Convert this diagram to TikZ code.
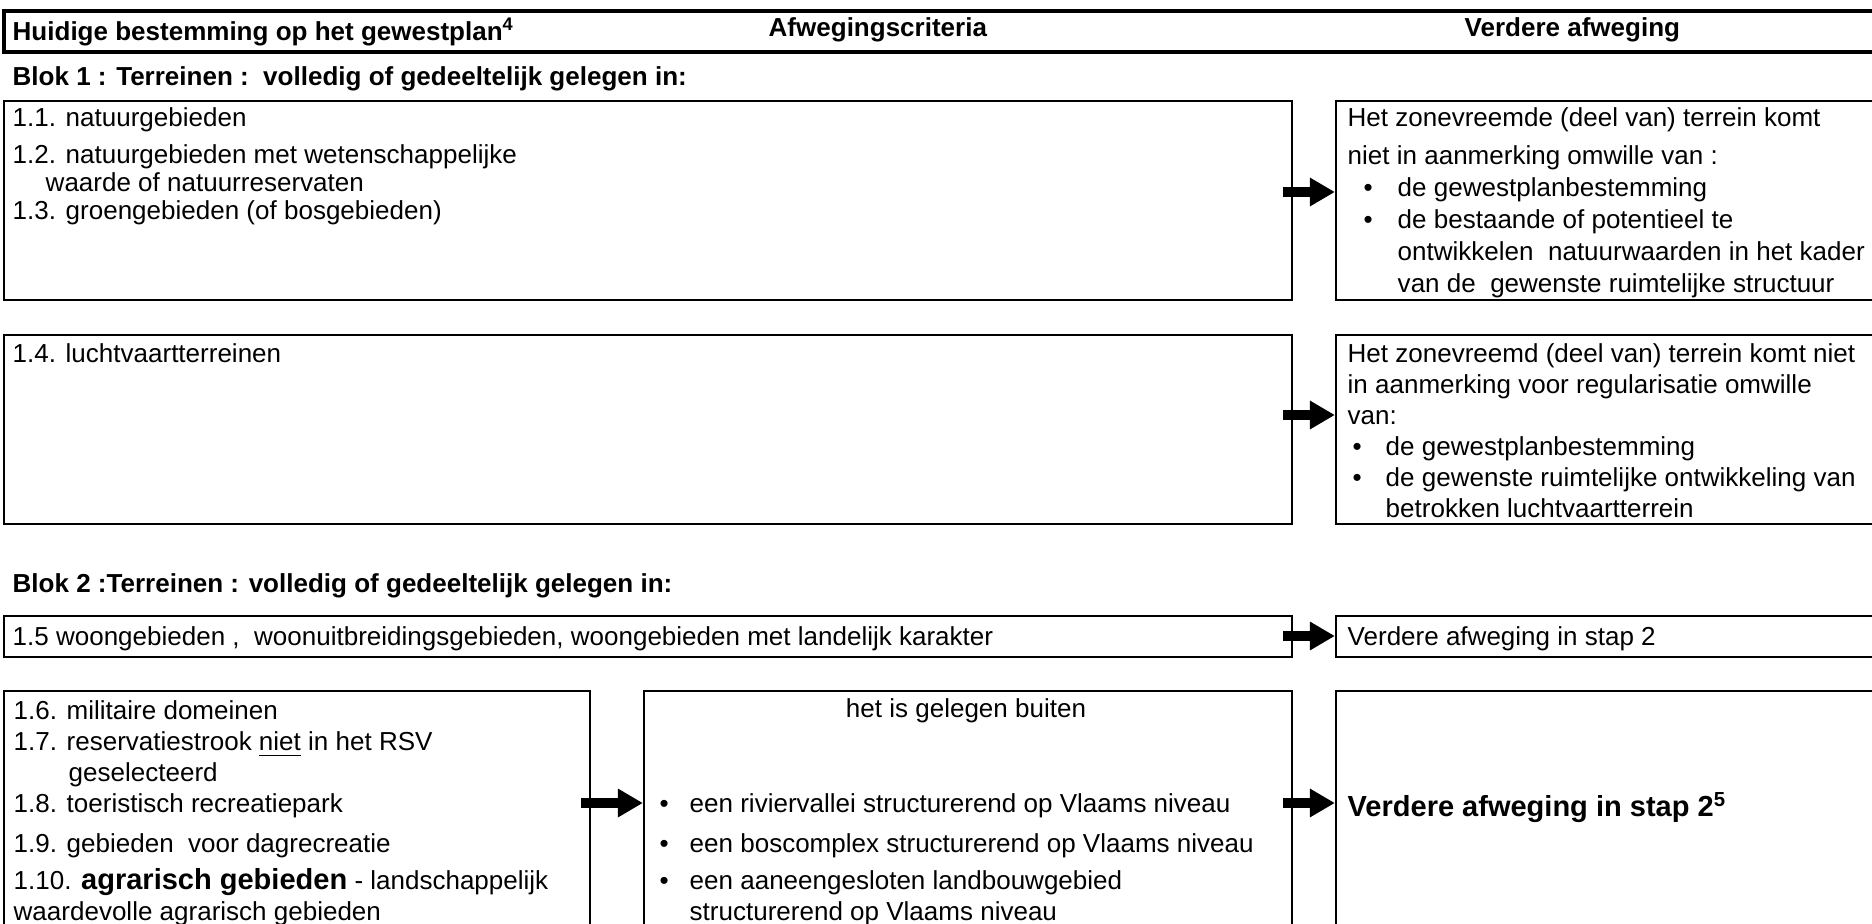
\documentclass[tikz,border=0pt]{standalone}
\usepackage{fontspec}
\setmainfont{Liberation Sans}
\usepackage{tikz}
\usetikzlibrary{positioning, calc, fit, arrows.meta}

\newcommand{\nfont}{\fontsize{0.26cm}{0.31cm}\selectfont}
\newcommand{\bfont}{\fontsize{0.29cm}{0.31cm}\selectfont\bfseries}
% bullets in the right column, first and second box
\newcommand{\bul}{\hspace*{0.16cm}\makebox[0.34cm][l]{\textbullet}}
\newcommand{\ind}{\hspace*{0.50cm}}
\newcommand{\bulb}{\hspace*{0.05cm}\makebox[0.33cm][l]{\textbullet}}
\newcommand{\indb}{\hspace*{0.38cm}}
\newcommand{\bulm}{\makebox[0.30cm][l]{\textbullet}}

\begin{document}
\begin{tikzpicture}[x=0.01cm, y=-0.01cm, font=\nfont,
    cell/.style={draw, line width=0.022cm, inner sep=0pt},
    head/.style={draw, line width=0.03cm, inner sep=0pt},
    txt/.style={anchor=north west, inner sep=0pt, align=left, font=\nfont},
    btxt/.style={txt, font=\nfont\bfseries},
    blk/.style={line width=0.10cm, -{Triangle[length=0.25cm, width=0.27cm]}}]
    \useasboundingbox (0,0) rectangle (1872,924);

    % header row
    \node[head, fit={(4,11) (1900,52)}] (hdr) {};
    \node[btxt] (hBest) at (12,17) {Huidige bestemming op het gewestplan\textsuperscript{4}};
    \node[btxt] (hCrit) at (768,17) {Afwegingscriteria};
    \node[btxt] (hVerd) at (1464,17) {Verdere afweging};

    % blok 1
    \node[btxt] (blok1) at (12,66) {Blok 1 : Terreinen :\ \ volledig of gedeeltelijk gelegen in:};
    \node[cell, fit={(4,101) (1292,300)}] (natuur) {};
    \node[cell, fit={(1336,101) (1900,300)}] (natuurR) {};
    \node[txt, font=\fontsize{0.26cm}{0.28cm}\selectfont] (natuurT) at (12,107) {1.1. natuurgebieden\\[0.09cm]
        1.2. natuurgebieden met wetenschappelijke\\
        \hspace*{0.33cm}waarde of natuurreservaten\\
        1.3. groengebieden (of bosgebieden)};
    \node[txt, font=\fontsize{0.26cm}{0.32cm}\selectfont] (natuurRT) at (1347,107) {Het zonevreemde (deel van) terrein komt\\[0.06cm]
        niet in aanmerking omwille van :\\
        \bul de gewestplanbestemming\\
        \bul de bestaande of potentieel te\\
        \ind ontwikkelen\ \ natuurwaarden in het kader\\
        \ind van de\ \ gewenste ruimtelijke structuur};
    \coordinate (y1) at (0,192);
    \draw[blk] ([xshift=-0.1cm]natuur.east |- y1) -- (natuurR.west |- y1);

    \node[cell, fit={(4,335) (1292,524)}] (lucht) {};
    \node[cell, fit={(1336,335) (1900,524)}] (luchtR) {};
    \node[txt] (luchtT) at (12,343) {1.4. luchtvaartterreinen};
    \node[txt] (luchtRT) at (1347,343) {Het zonevreemd (deel van) terrein komt niet\\
        in aanmerking voor regularisatie omwille\\
        van:\\
        \bulb de gewestplanbestemming\\
        \bulb de gewenste ruimtelijke ontwikkeling van\\
        \indb betrokken luchtvaartterrein};
    \coordinate (y2) at (0,415);
    \draw[blk] ([xshift=-0.1cm]lucht.east |- y2) -- (luchtR.west |- y2);

    % blok 2
    \node[btxt] (blok2) at (12,573) {Blok 2 :Terreinen : volledig of gedeeltelijk gelegen in:};
    \node[cell, fit={(4,616) (1292,657)}] (wonen) {};
    \node[cell, fit={(1336,616) (1900,657)}] (wonenR) {};
    \node[txt] (wonenT) at (12,626) {1.5 woongebieden ,\ \ woonuitbreidingsgebieden, woongebieden met landelijk karakter};
    \node[txt] (wonenRT) at (1347,626) {Verdere afweging in stap 2};
    \coordinate (y3) at (0,636);
    \draw[blk] ([xshift=-0.1cm]wonen.east |- y3) -- (wonenR.west |- y3);

    \node[cell, fit={(4,691) (590,940)}] (overig) {};
    \node[cell, fit={(644,691) (1292,940)}] (crit) {};
    \node[cell, fit={(1336,691) (1900,940)}] (stap) {};
    \node[txt] (overigT) at (13,700) {1.6. militaire domeinen\\
        1.7. reservatiestrook \underline{niet} in het RSV\\
        \hspace*{0.55cm}geselecteerd\\
        1.8. toeristisch recreatiepark\\[0.09cm]
        1.9. gebieden\ \ voor dagrecreatie\\[0.06cm]
        1.10. {\bfont agrarisch gebieden} - landschappelijk\\
        waardevolle agrarisch gebieden};
    \node[txt, anchor=north] (critT) at (966,698) {het is gelegen buiten};
    \node[txt] (critB) at (659,793) {\bulm een riviervallei structurerend op Vlaams niveau\\[0.09cm]
        \bulm een boscomplex structurerend op Vlaams niveau\\[0.06cm]
        \bulm een aaneengesloten landbouwgebied\\
        \hspace*{0.30cm}structurerend op Vlaams niveau};
    \node[txt, font=\bfont] (stapT) at (1347,792) {Verdere afweging in stap 2\textsuperscript{5}};
    \coordinate (y4) at (0,803);
    \draw[blk] ([xshift=-0.1cm]overig.east |- y4) -- (crit.west |- y4);
    \draw[blk] ([xshift=-0.1cm]crit.east |- y4) -- (stap.west |- y4);
\end{tikzpicture}
\end{document}
